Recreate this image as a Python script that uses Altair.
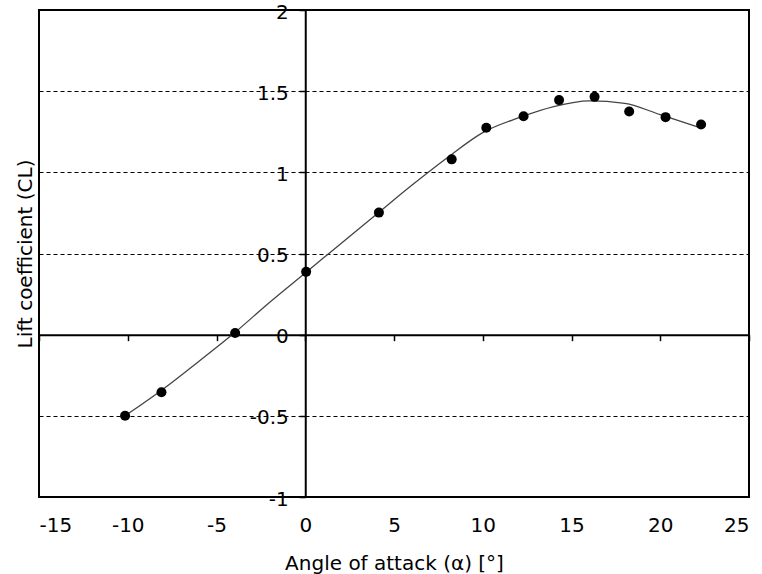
import altair as alt
import pandas as pd

# Measured points (angle of attack in degrees, lift coefficient)
alpha_pts = [-10.15, -8.1, -3.95, 0.05, 4.15, 8.25, 10.2, 12.3, 14.3, 16.3, 18.25, 20.3, 22.3]
cl_pts = [-0.50, -0.355, 0.01, 0.387, 0.752, 1.08, 1.275, 1.345, 1.445, 1.465, 1.375, 1.34, 1.295]

# Fitted curve
alpha_fit = [-10.15, -8, -6, -4, -2, 0, 2, 4, 6, 8, 10, 12, 14, 16, 18, 20, 22.1]
cl_fit = [-0.50, -0.335, -0.165, 0.01, 0.20, 0.38, 0.56, 0.74, 0.92, 1.09, 1.245, 1.335, 1.405, 1.44, 1.425, 1.355, 1.28]

x_ticks = [-15, -10, -5, 0, 5, 10, 15, 20, 25]
y_ticks = [-1, -0.5, 0, 0.5, 1, 1.5, 2]

x_title = "Angle of attack (α) [°]"
y_title = "Lift coefficient (CL)"

pts = pd.DataFrame({"alpha": alpha_pts, "cl": cl_pts})
fit = pd.DataFrame({"alpha": alpha_fit, "cl": cl_fit})

FONT = "DejaVu Sans"
W, H = 710, 487
xdom = [-15, 25]
ydom = [-1, 2]
# pixel distance of the zero lines from the plot's left and bottom edges
x_zero = W * (0 - xdom[0]) / (xdom[1] - xdom[0])
y_zero_from_bottom = H * (0 - ydom[0]) / (ydom[1] - ydom[0])

xscale = alt.Scale(domain=xdom, nice=False, zero=False)
yscale = alt.Scale(domain=ydom, nice=False, zero=False)

line = alt.Chart(fit).mark_line(
    color="#444444", strokeWidth=1.3, interpolate="monotone"
).encode(
    x=alt.X("alpha:Q", scale=xscale, axis=alt.Axis(
        orient="bottom", values=x_ticks, title=x_title, ticks=False, domain=False,
        grid=False, labelPadding=18, titlePadding=18,
        labelExpr="toString(datum.value)")),
    y=alt.Y("cl:Q", scale=yscale, axis=alt.Axis(
        orient="left", values=y_ticks, title=None, offset=-x_zero,
        tickSize=6, tickColor="black", tickWidth=1.5,
        domain=True, domainColor="black", domainWidth=2,
        grid=True, gridColor="black", gridDash=[4, 3], gridWidth=1.2, gridOpacity=1,
        labelPadding=11, labelOffset=2, labelExpr="toString(datum.value)")),
)

points = alt.Chart(pts).mark_circle(size=100, color="black", opacity=1).encode(
    x=alt.X("alpha:Q", scale=xscale, axis=alt.Axis(
        orient="bottom", values=x_ticks, title=None, labels=False,
        offset=-y_zero_from_bottom,
        tickSize=6, tickColor="black", tickWidth=1.5,
        domain=True, domainColor="black", domainWidth=2, grid=False)),
    y=alt.Y("cl:Q", scale=yscale, axis=alt.Axis(
        orient="left", title=y_title, labels=False, ticks=False, domain=False,
        grid=False, titlePadding=4)),
)

chart = alt.layer(line, points).resolve_axis(
    x="independent", y="independent"
).properties(
    width=W, height=H,
    padding={"left": 39, "top": 10, "right": 13, "bottom": 77},
    autosize=alt.AutoSizeParams(type="none"),
    background="white",
).configure_view(
    stroke="black", strokeWidth=2
).configure_axis(
    labelFont=FONT, labelFontSize=20, labelColor="black", labelFontWeight="normal",
    titleFont=FONT, titleFontSize=20, titleColor="black", titleFontWeight="normal",
)

chart.save("out.html", embed_options={"renderer": "svg", "actions": False})
